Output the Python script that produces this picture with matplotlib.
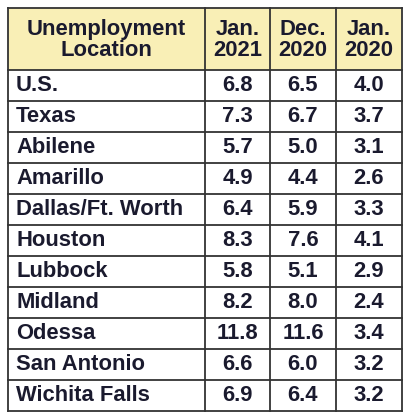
import matplotlib
matplotlib.use("Agg")
import matplotlib.pyplot as plt
from matplotlib.patches import Rectangle

header = ["Unemployment\nLocation", "Jan.\n2021", "Dec.\n2020", "Jan.\n2020"]
locations = ["U.S.", "Texas", "Abilene", "Amarillo", "Dallas/Ft. Worth", "Houston",
             "Lubbock", "Midland", "Odessa", "San Antonio", "Wichita Falls"]
jan_2021 = [6.8, 7.3, 5.7, 4.9, 6.4, 8.3, 5.8, 8.2, 11.8, 6.6, 6.9]
dec_2020 = [6.5, 6.7, 5.0, 4.4, 5.9, 7.6, 5.1, 8.0, 11.6, 6.0, 6.4]
jan_2020 = [4.0, 3.7, 3.1, 2.6, 3.3, 4.1, 2.9, 2.4, 3.4, 3.2, 3.2]

fam = ["Liberation Sans", "DejaVu Sans"]
col_edges = [8, 205, 270, 336, 402]
top, head_bottom, bottom = 8, 70, 411
row_h = (bottom - head_bottom) / len(locations)

fig = plt.figure(figsize=(4.1, 4.2), dpi=100)
ax = fig.add_axes([0, 0, 1, 1])
ax.set_xlim(0, 410)
ax.set_ylim(420, 0)
ax.axis("off")

ax.add_patch(Rectangle((col_edges[0], top), col_edges[-1] - col_edges[0], head_bottom - top,
                       facecolor="#f9efb6", edgecolor="none"))
lw = 1.3
for x in col_edges:
    ax.plot([x, x], [top, bottom], color="#333333", lw=lw)
ys = [top, head_bottom] + [head_bottom + row_h * (i + 1) for i in range(len(locations))]
for y in ys:
    ax.plot([col_edges[0], col_edges[-1]], [y, y], color="#333333", lw=lw)

text_color = "#1a1a2e"
fs = 15.8
for j, h in enumerate(header):
    cx = (col_edges[j] + col_edges[j + 1]) / 2
    ax.text(cx, (top + head_bottom) / 2 + 1, h, ha="center", va="center", fontsize=fs,
            fontweight="bold", family=fam, color=text_color, linespacing=1.0)

for i, loc in enumerate(locations):
    cy = head_bottom + row_h * (i + 0.5)
    ax.text(col_edges[0] + 8, cy, loc, ha="left", va="center", fontsize=fs,
            fontweight="bold", family=fam, color=text_color)
    for j, vals in enumerate([jan_2021, dec_2020, jan_2020]):
        cx = (col_edges[j + 1] + col_edges[j + 2]) / 2
        ax.text(cx, cy, f"{vals[i]:.1f}", ha="center", va="center", fontsize=fs,
                fontweight="bold", family=fam, color=text_color)

fig.savefig("out.png", dpi=100)
